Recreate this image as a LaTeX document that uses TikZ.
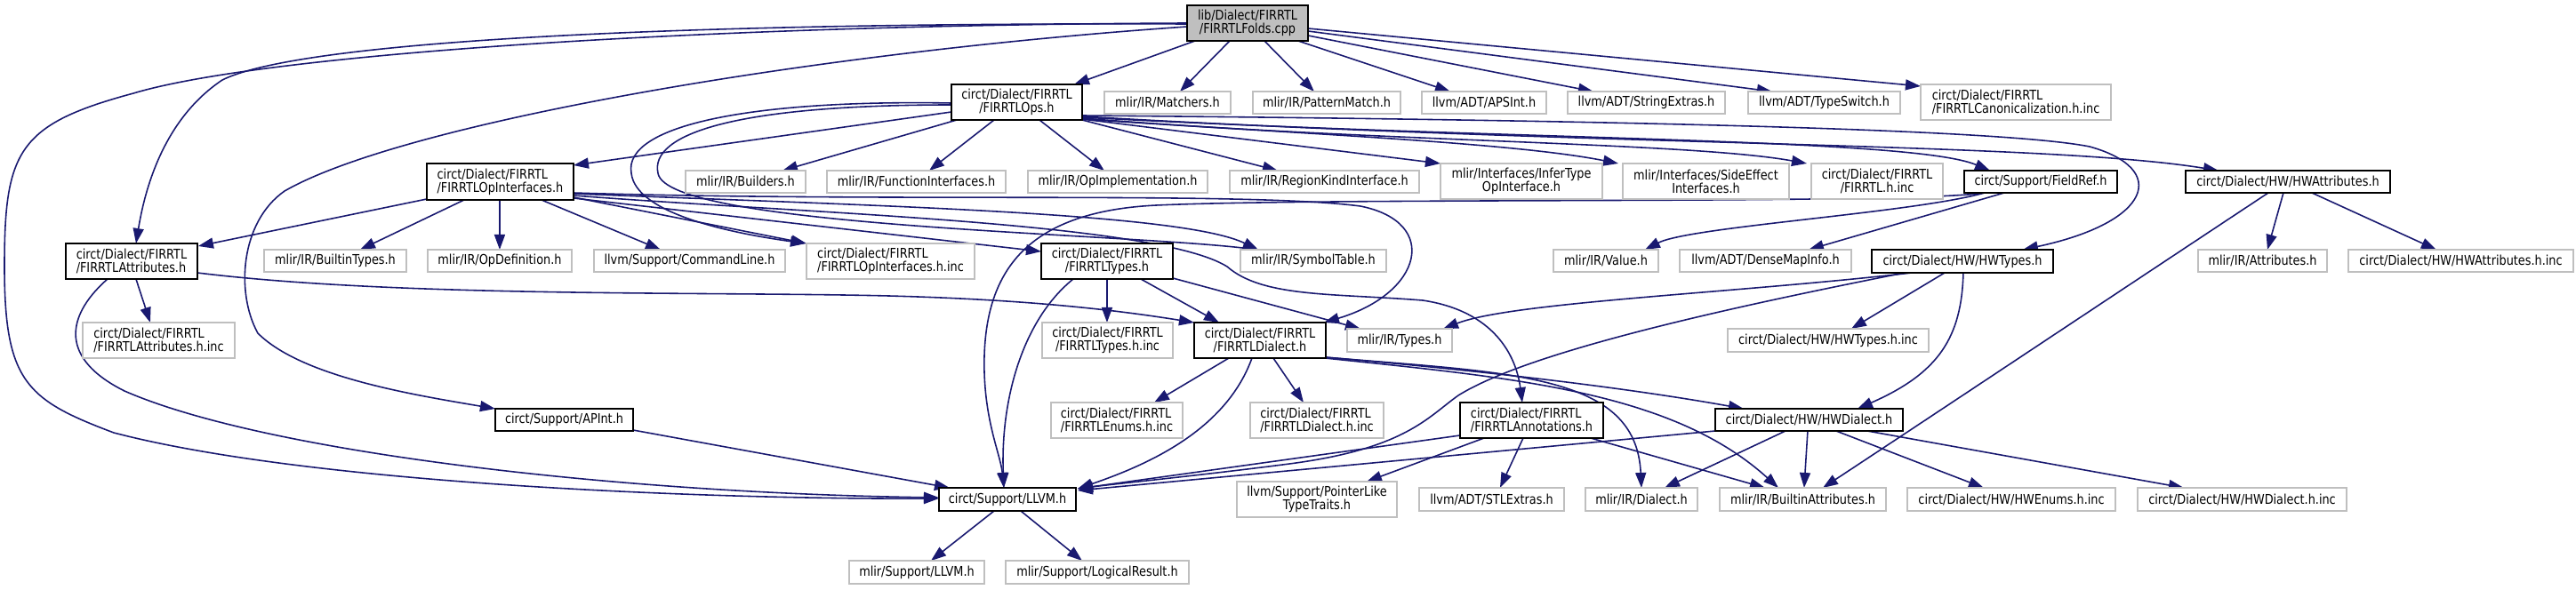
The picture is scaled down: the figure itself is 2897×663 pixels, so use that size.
\documentclass[tikz,border=0pt]{standalone}
\usepackage{fontspec}
\newfontfamily\doxfont[FakeStretch=0.85]{DejaVu Sans}
\usetikzlibrary{arrows.meta,calc,backgrounds}
\definecolor{edgeblue}{RGB}{25,25,112}
\definecolor{boxgray}{RGB}{191,191,191}
\newcommand\mkbox[7]{%
 \pgfmathsetmacro\bxcx{(#3+#5)/2}%
 \pgfmathsetmacro\bxcy{(#4+#6)/2}%
 \pgfmathsetmacro\bxw{(#5-#3)/100}%
 \pgfmathsetmacro\bxh{(#6-#4)/100}%
 \node[#1,minimum width=\bxw cm,minimum height=\bxh cm] (#2) at (\bxcx,\bxcy) {#7};}
\tikzset{
 gbox/.style={draw=boxgray, line width=0.6pt, fill=white, inner sep=0pt, outer sep=0pt, align=center},
 dbox/.style={gbox, draw=black, line width=0.7pt},
 mbox/.style={dbox, fill=boxgray},
 dep/.style={draw=edgeblue, line width=0.45pt, -{Triangle[length=0.17cm,width=0.12cm]}}
}
\begin{document}
\begin{tikzpicture}[x=0.01cm,y=-0.01cm,font=\doxfont\fontsize{4.3pt}{4.2pt}\selectfont]
\useasboundingbox (0,0) rectangle (2897,663);
% nodes
\mkbox{mbox}{n0}{1335}{6}{1471}{46}{lib/Dialect/FIRRTL\\/FIRRTLFolds.cpp}
\mkbox{dbox}{n1}{1070}{95}{1217}{135}{circt/Dialect/FIRRTL\\/FIRRTLOps.h}
\mkbox{gbox}{n2}{1242}{103}{1384}{128}{mlir/IR/Matchers.h}
\mkbox{gbox}{n3}{1409}{103}{1575}{128}{mlir/IR/PatternMatch.h}
\mkbox{gbox}{n4}{1599}{103}{1739}{128}{llvm/ADT/APSInt.h}
\mkbox{gbox}{n5}{1763}{103}{1940}{128}{llvm/ADT/StringExtras.h}
\mkbox{gbox}{n6}{1966}{103}{2137}{128}{llvm/ADT/TypeSwitch.h}
\mkbox{gbox,align=left}{n7}{2160}{95}{2374}{135}{circt/Dialect/FIRRTL\\/FIRRTLCanonicalization.h.inc}
\mkbox{dbox,align=left}{n8}{480}{184}{645}{225}{circt/Dialect/FIRRTL\\/FIRRTLOpInterfaces.h}
\mkbox{gbox}{n9}{771}{192}{906}{217}{mlir/IR/Builders.h}
\mkbox{gbox}{n10}{930}{192}{1131}{217}{mlir/IR/FunctionInterfaces.h}
\mkbox{gbox}{n11}{1156}{192}{1358}{217}{mlir/IR/OpImplementation.h}
\mkbox{gbox}{n12}{1383}{192}{1596}{217}{mlir/IR/RegionKindInterface.h}
\mkbox{gbox}{n13}{1620}{184}{1802}{224}{mlir/Interfaces/InferType\\OpInterface.h}
\mkbox{gbox}{n14}{1825}{184}{2012}{224}{mlir/Interfaces/SideEffect\\Interfaces.h}
\mkbox{gbox}{n15}{2037}{184}{2185}{224}{circt/Dialect/FIRRTL\\/FIRRTL.h.inc}
\mkbox{dbox}{n16}{2209}{192}{2381}{217}{circt/Support/FieldRef.h}
\mkbox{dbox}{n17}{2458}{192}{2688}{217}{circt/Dialect/HW/HWAttributes.h}
\mkbox{dbox,align=left}{n18}{74}{274}{222}{314}{circt/Dialect/FIRRTL\\/FIRRTLAttributes.h}
\mkbox{gbox}{n19}{297}{281}{457}{306}{mlir/IR/BuiltinTypes.h}
\mkbox{gbox}{n20}{481}{281}{643}{306}{mlir/IR/OpDefinition.h}
\mkbox{gbox}{n21}{668}{281}{883}{306}{llvm/Support/CommandLine.h}
\mkbox{gbox,align=left}{n22}{907}{274}{1096}{314}{circt/Dialect/FIRRTL\\/FIRRTLOpInterfaces.h.inc}
\mkbox{dbox}{n23}{1171}{274}{1319}{314}{circt/Dialect/FIRRTL\\/FIRRTLTypes.h}
\mkbox{gbox}{n24}{1395}{281}{1559}{306}{mlir/IR/SymbolTable.h}
\mkbox{gbox}{n25}{1747}{281}{1865}{306}{mlir/IR/Value.h}
\mkbox{gbox}{n26}{1889}{281}{2082}{306}{llvm/ADT/DenseMapInfo.h}
\mkbox{dbox}{n27}{2105}{281}{2309}{307}{circt/Dialect/HW/HWTypes.h}
\mkbox{gbox}{n28}{2472}{281}{2617}{306}{mlir/IR/Attributes.h}
\mkbox{gbox}{n29}{2641}{281}{2894}{306}{circt/Dialect/HW/HWAttributes.h.inc}
\mkbox{gbox,align=left}{n30}{93}{363}{264}{403}{circt/Dialect/FIRRTL\\/FIRRTLAttributes.h.inc}
\mkbox{gbox}{n31}{1172}{363}{1319}{403}{circt/Dialect/FIRRTL\\/FIRRTLTypes.h.inc}
\mkbox{dbox}{n32}{1343}{363}{1491}{403}{circt/Dialect/FIRRTL\\/FIRRTLDialect.h}
\mkbox{gbox}{n33}{1515}{370}{1633}{396}{mlir/IR/Types.h}
\mkbox{gbox}{n34}{1943}{370}{2169}{396}{circt/Dialect/HW/HWTypes.h.inc}
\mkbox{gbox,align=left}{n35}{1182}{453}{1330}{493}{circt/Dialect/FIRRTL\\/FIRRTLEnums.h.inc}
\mkbox{gbox,align=left}{n36}{1406}{453}{1556}{493}{circt/Dialect/FIRRTL\\/FIRRTLDialect.h.inc}
\mkbox{dbox,align=left}{n37}{1642}{453}{1803}{493}{circt/Dialect/FIRRTL\\/FIRRTLAnnotations.h}
\mkbox{dbox}{n38}{1929}{460}{2140}{485}{circt/Dialect/HW/HWDialect.h}
\mkbox{dbox}{n39}{557}{460}{712}{485}{circt/Support/APInt.h}
\mkbox{dbox}{n40}{1056}{549}{1210}{575}{circt/Support/LLVM.h}
\mkbox{gbox}{n41}{1391}{542}{1571}{582}{llvm/Support/PointerLike\\TypeTraits.h}
\mkbox{gbox}{n42}{1596}{549}{1759}{575}{llvm/ADT/STLExtras.h}
\mkbox{gbox}{n43}{1783}{549}{1909}{575}{mlir/IR/Dialect.h}
\mkbox{gbox}{n44}{1934}{549}{2121}{575}{mlir/IR/BuiltinAttributes.h}
\mkbox{gbox}{n45}{2145}{549}{2379}{575}{circt/Dialect/HW/HWEnums.h.inc}
\mkbox{gbox}{n46}{2404}{549}{2639}{575}{circt/Dialect/HW/HWDialect.h.inc}
\mkbox{gbox}{n47}{955}{631}{1107}{657}{mlir/Support/LLVM.h}
\mkbox{gbox}{n48}{1131}{631}{1337}{657}{mlir/Support/LogicalResult.h}
% edges
\begin{scope}[on background layer]
\fill[white] (0,0) rectangle (2897,663);
% from FIRRTLFolds.cpp
\draw[dep] ($(n0.north west)+(9,40)$) -- ($(n1.north west)+(138,0)$);
\draw[dep] ($(n0.north west)+(48,40)$) -- ($(n2.north west)+(85,0)$);
\draw[dep] ($(n0.north west)+(87,40)$) -- ($(n3.north west)+(69,0)$);
\draw[dep] ($(n0.north west)+(125,40)$) -- ($(n4.north west)+(32,0)$);
\draw[dep] ($(n0.north west)+(136,34)$) -- ($(n5.north west)+(29,0)$);
\draw[dep] ($(n0.north west)+(136,29)$) -- ($(n6.north west)+(27,0)$);
\draw[dep] ($(n0.north west)+(136,26)$) -- ($(n7.north west)+(0,2)$);
\draw[dep] ($(n0.north west)+(0,21)$) .. controls (700,25) and (330,50) .. (250,90) .. controls (190,130) and (165,200) .. ($(n18.north west)+(79,0)$);
\draw[dep] ($(n0.north west)+(0,20)$) .. controls (800,28) and (300,60) .. (150,105) .. controls (20,140) and (5,170) .. (5,300) .. controls (5,430) and (30,450) .. (128,487) .. controls (350,545) and (800,562) .. ($(n40.north west)+(0,12)$);
\draw[dep] ($(n0.north west)+(0,24)$) .. controls (900,60) and (450,140) .. (320,215) .. controls (270,250) and (265,330) .. (290,375) .. controls (340,425) and (470,445) .. ($(n39.north west)+(0,0)$);
% from FIRRTLAttributes.h
\draw[dep] ($(n18.north west)+(79,40)$) -- ($(n30.north west)+(76,0)$);
\draw[dep] ($(n18.north west)+(47,40)$) .. controls (80,350) and (60,400) .. (140,440) .. controls (300,510) and (700,555) .. ($(n40.north west)+(0,11)$);
\draw[dep] ($(n18.north west)+(148,33)$) .. controls (450,335) and (800,328) .. (1000,333) .. controls (1150,337) and (1250,348) .. ($(n32.north west)+(0,0)$);
% from FIRRTLOps.h
\draw[dep] ($(n1.north west)+(0,31)$) -- ($(n8.north west)+(165,2)$);
\draw[dep] ($(n1.north west)+(6,40)$) -- ($(n9.north west)+(109,0)$);
\draw[dep] ($(n1.north west)+(48,40)$) -- ($(n10.north west)+(115,0)$);
\draw[dep] ($(n1.north west)+(99,40)$) -- ($(n11.north west)+(86,0)$);
\draw[dep] ($(n1.north west)+(147,40)$) -- ($(n12.north west)+(54,0)$);
\draw[dep] ($(n1.north west)+(147,39)$) -- ($(n13.north west)+(0,0)$);
\draw[dep] ($(n1.north west)+(147,39)$) .. controls (1450,150) and (1700,160) .. ($(n14.north west)+(-5,0)$);
\draw[dep] ($(n1.north west)+(147,38)$) .. controls (1550,160) and (1900,160) .. ($(n15.north west)+(-5,0)$);
\draw[dep] ($(n1.north west)+(147,37)$) .. controls (1700,158) and (2150,155) .. ($(n16.north west)+(29,0)$);
\draw[dep] ($(n1.north west)+(147,36)$) .. controls (1800,165) and (2300,160) .. ($(n17.north west)+(37,0)$);
\draw[dep] ($(n1.north west)+(147,35)$) .. controls (1800,135) and (2250,145) .. (2350,165) .. controls (2440,190) and (2420,250) .. ($(n27.north west)+(170,0)$);
\draw[dep] ($(n1.north west)+(0,21)$) .. controls (850,112) and (700,140) .. (710,195) .. controls (715,240) and (820,262) .. ($(n22.north west)+(-1,0)$);
\draw[dep] ($(n1.north west)+(0,23)$) .. controls (830,118) and (730,150) .. (740,195) .. controls (750,255) and (1250,262) .. ($(n24.north west)+(20,0)$);
% from FIRRTLOpInterfaces.h
\draw[dep] ($(n8.north west)+(0,40)$) -- ($(n18.north west)+(149,3)$);
\draw[dep] ($(n8.north west)+(42,41)$) -- ($(n19.north west)+(108,0)$);
\draw[dep] ($(n8.north west)+(82,41)$) -- ($(n20.north west)+(81,0)$);
\draw[dep] ($(n8.north west)+(129,41)$) -- ($(n21.north west)+(75,0)$);
\draw[dep] ($(n8.north west)+(165,38)$) -- ($(n22.north west)+(0,0)$);
\draw[dep] ($(n8.north west)+(165,39)$) -- ($(n23.north west)+(0,9)$);
\draw[dep] ($(n8.north west)+(165,34)$) .. controls (1000,232) and (1330,240) .. ($(n24.north west)+(20,0)$);
\draw[dep] ($(n8.north west)+(165,33)$) .. controls (1000,228) and (1400,215) .. (1530,232) .. controls (1620,250) and (1600,330) .. ($(n32.north west)+(146,0)$);
\draw[dep] ($(n8.north west)+(165,36)$) .. controls (900,240) and (1300,250) .. (1380,300) .. controls (1420,335) and (1500,330) .. (1600,338) .. controls (1680,350) and (1705,400) .. ($(n37.north west)+(70,0)$);
% from FIRRTLTypes.h
\draw[dep] ($(n23.north west)+(36,40)$) .. controls (1150,360) and (1125,450) .. ($(n40.north west)+(73,0)$);
\draw[dep] ($(n23.north west)+(74,40)$) -- ($(n31.north west)+(73,0)$);
\draw[dep] ($(n23.north west)+(112,40)$) -- ($(n32.north west)+(28,0)$);
\draw[dep] ($(n23.north west)+(148,39)$) -- ($(n33.north west)+(15,0)$);
% from FieldRef.h
\draw[dep] ($(n16.north west)+(23,25)$) .. controls (2150,230) and (1500,222) .. (1300,231) .. controls (1160,238) and (1110,300) .. (1107,400) .. controls (1105,470) and (1125,510) .. ($(n40.north west)+(73,0)$);
\draw[dep] ($(n16.north west)+(23,25)$) .. controls (2150,240) and (1900,255) .. ($(n25.north west)+(103,0)$);
\draw[dep] ($(n16.north west)+(45,25)$) -- ($(n26.north west)+(145,0)$);
% from HWAttributes.h
\draw[dep] ($(n17.north west)+(110,25)$) -- ($(n28.north west)+(78,0)$);
\draw[dep] ($(n17.north west)+(142,25)$) -- ($(n29.north west)+(99,0)$);
\draw[dep] ($(n17.north west)+(93,25)$) .. controls (2350,350) and (2200,450) .. ($(n44.north west)+(116,0)$);
% from HWTypes.h
\draw[dep] ($(n27.north west)+(45,26)$) .. controls (1950,330) and (1700,340) .. ($(n33.north west)+(108,0)$);
\draw[dep] ($(n27.north west)+(37,26)$) .. controls (1950,345) and (1720,395) .. (1640,445) .. controls (1605,470) and (1580,505) .. (1450,522) .. controls (1350,535) and (1250,545) .. ($(n40.north west)+(156,1)$);
\draw[dep] ($(n27.north west)+(82,26)$) -- ($(n34.north west)+(139,0)$);
\draw[dep] ($(n27.north west)+(103,26)$) .. controls (2206,380) and (2180,420) .. ($(n38.north west)+(160,0)$);
% from FIRRTLDialect.h
\draw[dep] ($(n32.north west)+(39,40)$) -- ($(n35.north west)+(116,0)$);
\draw[dep] ($(n32.north west)+(89,40)$) -- ($(n36.north west)+(60,0)$);
\draw[dep] ($(n32.north west)+(65,40)$) .. controls (1380,480) and (1300,520) .. ($(n40.north west)+(156,1)$);
\draw[dep] ($(n32.north west)+(147,39)$) .. controls (1700,420) and (1840,420) .. ($(n43.north west)+(63,0)$);
\draw[dep] ($(n32.north west)+(147,40)$) .. controls (1700,425) and (1880,440) .. ($(n44.north west)+(66,0)$);
\draw[dep] ($(n32.north west)+(147,39)$) .. controls (1700,420) and (1850,440) .. ($(n38.north west)+(32,0)$);
% from FIRRTLAnnotations.h
\draw[dep] ($(n37.north west)+(0,37)$) -- ($(n40.north west)+(156,1)$);
\draw[dep] ($(n37.north west)+(27,40)$) -- ($(n41.north west)+(146,0)$);
\draw[dep] ($(n37.north west)+(71,40)$) -- ($(n42.north west)+(91,0)$);
\draw[dep] ($(n37.north west)+(147,40)$) -- ($(n44.north west)+(51,0)$);
% from HWDialect.h
\draw[dep] ($(n38.north west)+(0,25)$) -- ($(n40.north west)+(156,3)$);
\draw[dep] ($(n38.north west)+(79,25)$) -- ($(n43.north west)+(89,0)$);
\draw[dep] ($(n38.north west)+(104,25)$) -- ($(n44.north west)+(95,0)$);
\draw[dep] ($(n38.north west)+(136,25)$) -- ($(n45.north west)+(86,0)$);
\draw[dep] ($(n38.north west)+(171,25)$) -- ($(n46.north west)+(52,0)$);
% others
\draw[dep] ($(n39.north west)+(155,24)$) -- ($(n40.north west)+(12,0)$);
\draw[dep] ($(n40.north west)+(62,26)$) -- ($(n47.north west)+(92,0)$);
\draw[dep] ($(n40.north west)+(92,26)$) -- ($(n48.north west)+(86,0)$);
\end{scope}
\end{tikzpicture}
\end{document}
